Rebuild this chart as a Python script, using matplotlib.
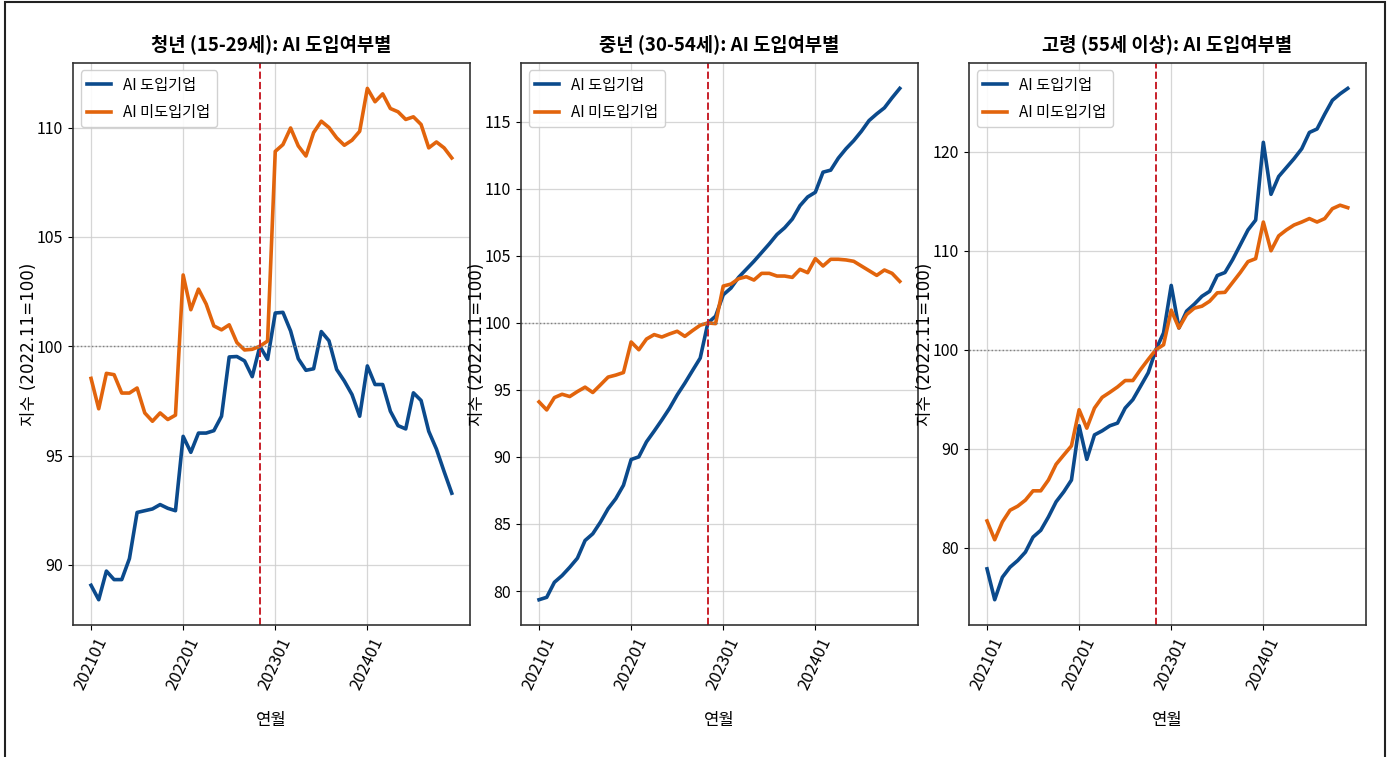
import matplotlib
matplotlib.use('Agg')
import matplotlib.pyplot as plt
from matplotlib.patches import Rectangle

plt.rcParams['font.family'] = ['Noto Sans CJK KR', 'DejaVu Sans']
plt.rcParams['axes.unicode_minus'] = False

# ---------------- data (index, 2022.11 = 100) ----------------
months = [f"{y}{m:02d}" for y in (2021, 2022, 2023, 2024) for m in range(1, 13)]
base_month = '202211'

titles = ['청년 (15-29세): AI 도입여부별',
          '중년 (30-54세): AI 도입여부별',
          '고령 (55세 이상): AI 도입여부별']

young_ai = [89.07, 88.41, 89.72, 89.33, 89.33, 90.29, 92.40, 92.48, 92.56, 92.76, 92.59, 92.48,
            95.88, 95.15, 96.03, 96.03, 96.14, 96.80, 99.51, 99.53, 99.33, 98.61, 100.0, 99.40,
            101.52, 101.55, 100.70, 99.43, 98.90, 98.97, 100.67, 100.25, 98.94, 98.41, 97.79, 96.80,
            99.10, 98.25, 98.25, 97.03, 96.37, 96.22, 97.87, 97.52, 96.11, 95.30, 94.27, 93.28]
young_non = [98.53, 97.14, 98.76, 98.70, 97.86, 97.86, 98.09, 96.95, 96.57, 96.95, 96.65, 96.85,
             103.26, 101.67, 102.61, 101.93, 100.93, 100.75, 100.98, 100.17, 99.83, 99.86, 100.0, 100.24,
             108.91, 109.22, 109.98, 109.16, 108.70, 109.77, 110.29, 110.00, 109.53, 109.19, 109.42, 109.83,
             111.79, 111.18, 111.54, 110.87, 110.72, 110.37, 110.49, 110.14, 109.07, 109.34, 109.07, 108.61]

middle_ai = [79.35, 79.53, 80.65, 81.15, 81.77, 82.45, 83.77, 84.27, 85.14, 86.14, 86.89, 87.89,
             89.81, 90.01, 91.13, 91.93, 92.76, 93.63, 94.63, 95.51, 96.45, 97.38, 100.0, 100.5,
             102.1, 102.6, 103.4, 104.0, 104.6, 105.25, 105.9, 106.6, 107.1, 107.75, 108.75, 109.4,
             109.75, 111.25, 111.4, 112.3, 113.0, 113.6, 114.3, 115.1, 115.6, 116.05, 116.8, 117.5]
middle_non = [94.11, 93.51, 94.43, 94.68, 94.51, 94.88, 95.21, 94.81, 95.38, 95.96, 96.11, 96.30,
              98.58, 98.00, 98.80, 99.13, 98.95, 99.18, 99.38, 99.00, 99.43, 99.83, 100.0, 99.95,
              102.75, 102.9, 103.3, 103.45, 103.2, 103.7, 103.7, 103.5, 103.5, 103.4, 104.0, 103.75,
              104.8, 104.25, 104.75, 104.75, 104.7, 104.6, 104.25, 103.9, 103.55, 103.95, 103.7, 103.1]

senior_ai = [77.87, 74.75, 77.02, 78.04, 78.71, 79.56, 81.08, 81.76, 83.11, 84.64, 85.65, 86.84,
             92.32, 88.93, 91.40, 91.81, 92.32, 92.59, 94.11, 94.96, 96.31, 97.67, 100.0, 101.7,
             106.5, 102.2, 103.9, 104.6, 105.4, 105.9, 107.5, 107.8, 109.1, 110.6, 112.1, 113.1,
             120.95, 115.7, 117.5, 118.4, 119.3, 120.3, 121.95, 122.3, 123.8, 125.2, 125.85, 126.4]
senior_non = [82.71, 80.81, 82.61, 83.79, 84.20, 84.81, 85.75, 85.75, 86.84, 88.43, 89.37, 90.29,
              93.94, 92.08, 94.11, 95.19, 95.70, 96.24, 96.89, 96.89, 98.00, 99.02, 100.0, 100.5,
              104.0, 102.2, 103.55, 104.2, 104.4, 104.9, 105.75, 105.8, 106.8, 107.8, 108.9, 109.2,
              112.9, 110.0, 111.5, 112.1, 112.6, 112.9, 113.25, 112.9, 113.25, 114.25, 114.6, 114.35]

ai_series = [young_ai, middle_ai, senior_ai]
non_series = [young_non, middle_non, senior_non]

blue = '#0b4a8c'
orange = '#e2640c'

# ---------------- figure ----------------
fig, axes = plt.subplots(1, 3, figsize=(13.88, 7.57), dpi=100)
plt.subplots_adjust(left=0.0526, right=0.984, top=0.917, bottom=0.174, wspace=0.129)

x = list(range(len(months)))
base_idx = months.index(base_month)

for ax, title, ai, non in zip(axes, titles, ai_series, non_series):
    ax.plot(x, ai, color=blue, linewidth=2.6, label='AI 도입기업')
    ax.plot(x, non, color=orange, linewidth=2.6, label='AI 미도입기업')
    ax.axvline(base_idx, color='#c8202a', linestyle='--', linewidth=1.4)
    ax.axhline(100, color='gray', linestyle=':', linewidth=1)
    ax.set_title(title, fontsize=13.5, fontweight='bold', pad=9)
    ax.set_xticks(x[::12])
    ax.set_xticklabels(months[::12], rotation=65, fontsize=12)
    ax.tick_params(axis='y', labelsize=11.5)
    ax.set_xlabel('연월', fontsize=12, labelpad=14)
    ax.set_ylabel('지수 (2022.11=100)', fontsize=12,
                  family=['DejaVu Sans', 'Noto Sans CJK KR'])
    ax.yaxis.set_label_coords(-0.088, 0.5)
    ax.grid(True, color='#cccccc', linewidth=0.9, alpha=0.8)
    ax.legend(loc='upper left', fontsize=11, framealpha=0.9,
              handlelength=1.6, labelspacing=0.7)
    for sp in ax.spines.values():
        sp.set_color('#333333')
        sp.set_linewidth(1.2)

# frame around the figure
fig.patches.append(Rectangle((5 / 1388, -0.01), 1380 / 1388, 1.01 - 2 / 757,
                             transform=fig.transFigure, fill=False,
                             edgecolor='#222222', linewidth=1.5))

fig.savefig('out.png', dpi=100)
